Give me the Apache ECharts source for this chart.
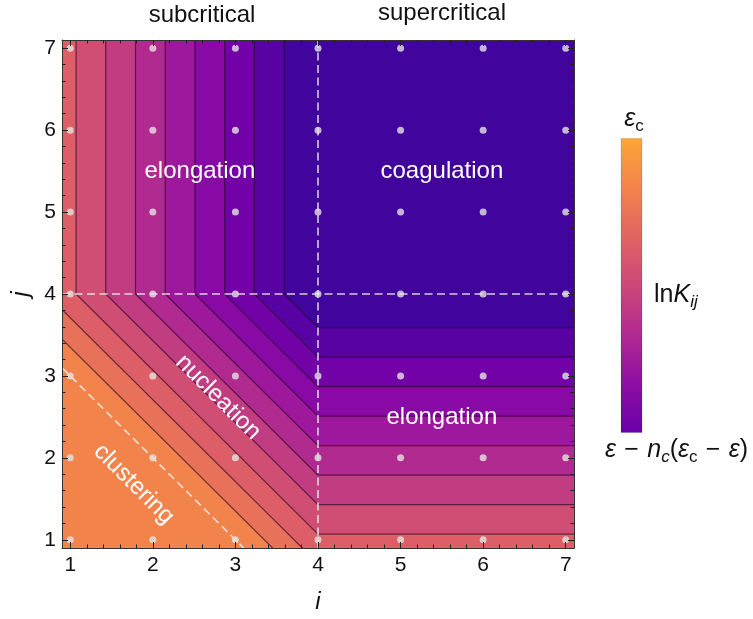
<!DOCTYPE html>
<html><head><meta charset="utf-8">
<script src="https://cdn.jsdelivr.net/npm/echarts@6/dist/echarts.min.js"></script>
<style>html,body{margin:0;padding:0;background:#fff}#c{width:753px;height:619px}</style>
</head><body><div id="c"></div>
<script>
// ---------------- data ----------------
const iTicks = [1, 2, 3, 4, 5, 6, 7];
const jTicks = [1, 2, 3, 4, 5, 6, 7];
// contour levels of the effective size u (u = i+j-n_c below n_c, u = i or j on the strips)
const contourLevels = [0.35, 0.71, 1.07, 1.43, 1.79, 2.15, 2.51, 2.87, 3.23, 3.59];
const criticalSize = 4;      // n_c : dashed lines i = 4 and j = 4
const clusteringSum = 4;     // dashed diagonal i + j = 4
const regionTitles = ['subcritical', 'supercritical'];
const phaseNames = ['elongation', 'coagulation', 'elongation', 'nucleation', 'clustering'];

// ---------------- layout / style ----------------
const X0 = 0.9, X1 = 7.1, Y0 = 0.9, Y1 = 7.1;
const FONT = '"Liberation Sans", Arial, Helvetica, sans-serif';
// band fills from lowest u (clustering) to highest u (coagulation) – plasma samples
const bandColors = ['#f2844b', '#e87159', '#dd5e66', '#d04d74', '#c23c82', '#b12a90',
                    '#9d189d', '#8809a6', '#7201a8', '#5802a4', '#41049d'];
const phaseLabelLayout = [[2.57, 5.5, 0], [5.5, 5.5, 0], [5.5, 2.5, 0], [2.79, 2.74, -45], [1.77, 1.68, -45]];

const minorTicks = [];
for (let k = 1; k < 7; k++) for (const f of [0.2, 0.4, 0.6, 0.8]) minorTicks.push(+(k + f).toFixed(1));

const gridPoints = [];
iTicks.forEach(i => jTicks.forEach(j => gridPoints.push([i, j])));

function xAx(pos, major, labels, extra) {
  return Object.assign({
    type: 'value', min: X0, max: X1, position: pos, z: 10,
    splitLine: { show: false },
    axisLine: { show: major, onZero: false, lineStyle: { color: '#333', width: 1 } },
    axisTick: { show: true, inside: true, length: major ? 6 : 3.5,
      customValues: major ? iTicks : minorTicks, lineStyle: { color: '#222', width: 1 } },
    axisLabel: { show: labels, customValues: iTicks, fontSize: 21, color: '#111', margin: 7, fontFamily: FONT }
  }, extra || {});
}
function yAx(pos, major, labels, extra) {
  return Object.assign({
    type: 'value', min: Y0, max: Y1, position: pos, z: 10,
    splitLine: { show: false },
    axisLine: { show: major, onZero: false, lineStyle: { color: '#333', width: 1 } },
    axisTick: { show: true, inside: true, length: major ? 6 : 3.5,
      customValues: major ? jTicks : minorTicks, lineStyle: { color: '#222', width: 1 } },
    axisLabel: { show: labels, customValues: jTicks, fontSize: 21, color: '#111', margin: 6, fontFamily: FONT }
  }, extra || {});
}

const mainTok = (italic) => ({ fontSize: 25, fontStyle: italic ? 'italic' : 'normal', fontFamily: FONT,
  fill: '#111', lineHeight: 32, verticalAlign: 'middle' });
const subTok = (italic) => ({ fontSize: 17, fontStyle: italic ? 'italic' : 'normal', fontFamily: FONT,
  fill: '#111', verticalAlign: 'bottom' });

const chart = echarts.init(document.getElementById('c'), null, { renderer: 'canvas' });

const option = {
  animation: false,
  backgroundColor: '#fff',
  grid: { left: 62, top: 40, width: 512, height: 511 },
  xAxis: [
    xAx('bottom', true, true, { name: 'i', nameLocation: 'middle', nameGap: 42,
      nameTextStyle: { fontStyle: 'italic', fontSize: 24, color: '#111', fontFamily: FONT } }),
    xAx('bottom', false, false),
    xAx('top', true, false),
    xAx('top', false, false)
  ],
  yAxis: [
    yAx('left', true, true, { name: 'j', nameLocation: 'middle', nameGap: 26, nameRotate: 90,
      nameTextStyle: { fontStyle: 'italic', fontSize: 24, color: '#111', fontFamily: FONT } }),
    yAx('left', false, false),
    yAx('right', true, false),
    yAx('right', false, false)
  ],
  series: [
    { // filled contour bands
      type: 'custom', clip: true, z: 1, silent: true,
      data: [X0].concat(contourLevels).map((c, k) => [c, k]),
      renderItem: function (params, api) {
        const idx = params.dataIndex;
        const color = bandColors[idx];
        if (idx === 0) {
          const p0 = api.coord([X0, Y1]), p1 = api.coord([X1, Y0]);
          return { type: 'rect', shape: { x: p0[0], y: p0[1], width: p1[0] - p0[0], height: p1[1] - p0[1] },
                   style: { fill: color } };
        }
        const c = contourLevels[idx - 1], B = criticalSize;
        const pts = [[c, Y1 + 1], [c, B], [B, c], [X1 + 1, c], [X1 + 1, Y1 + 1]].map(p => api.coord(p));
        return { type: 'polygon', shape: { points: pts }, style: { fill: color } };
      }
    },
    { // contour lines
      type: 'custom', clip: true, z: 2, silent: true,
      data: contourLevels.map((c, k) => [c, k]),
      renderItem: function (params, api) {
        const c = contourLevels[params.dataIndex], B = criticalSize;
        const pts = [[c, Y1 + 1], [c, B], [B, c], [X1 + 1, c]].map(p => api.coord(p));
        return { type: 'polyline', shape: { points: pts },
                 style: { fill: null, stroke: 'rgba(30,0,30,0.62)', lineWidth: 1.2 } };
      }
    },
    { // dashed guide lines
      type: 'custom', clip: true, z: 3, silent: true,
      data: [[criticalSize, 0], [criticalSize, 1], [clusteringSum, 2]],
      renderItem: function (params, api) {
        const k = params.dataIndex;
        let a, b;
        if (k === 0) { a = [criticalSize, Y0]; b = [criticalSize, Y1]; }
        else if (k === 1) { a = [X0, criticalSize]; b = [X1, criticalSize]; }
        else { a = [X0, clusteringSum - X0]; b = [clusteringSum - Y0, Y0]; }
        const p = api.coord(a), q = api.coord(b);
        return { type: 'line', shape: { x1: p[0], y1: p[1], x2: q[0], y2: q[1] },
                 style: { stroke: 'rgba(240,240,240,0.85)', lineWidth: 1.6, lineDash: [8, 4.5] } };
      }
    },
    { // lattice points
      type: 'scatter', z: 4, silent: true, symbol: 'circle', symbolSize: 7,
      itemStyle: { color: '#e4e4e4' },
      data: gridPoints
    },
    { // phase labels
      type: 'custom', clip: false, z: 5, silent: true,
      data: phaseLabelLayout.map(p => [p[0], p[1]]),
      renderItem: function (params, api) {
        const L = phaseLabelLayout[params.dataIndex];
        const p = api.coord([L[0], L[1]]);
        return { type: 'text', x: p[0], y: p[1], rotation: L[2] * Math.PI / 180,
                 style: { text: phaseNames[params.dataIndex], fill: '#fff', fontSize: 24,
                          fontFamily: FONT, align: 'center', verticalAlign: 'middle' } };
      }
    }
  ],
  graphic: [
    { type: 'text', x: 202, y: 15, style: { text: regionTitles[0], fill: '#111', fontSize: 24, fontFamily: FONT,
      align: 'center', verticalAlign: 'middle' } },
    { type: 'text', x: 442, y: 13, style: { text: regionTitles[1], fill: '#111', fontSize: 24, fontFamily: FONT,
      align: 'center', verticalAlign: 'middle' } },
    { type: 'rect', shape: { x: 621, y: 138.5, width: 21, height: 294 },
      style: { stroke: 'rgba(0,0,0,0.12)', lineWidth: 1,
        fill: new echarts.graphic.LinearGradient(0, 0, 0, 1, [
          { offset: 0, color: '#fca636' }, { offset: 0.1667, color: '#f2844b' },
          { offset: 0.3333, color: '#e16462' }, { offset: 0.5, color: '#cc4778' },
          { offset: 0.6667, color: '#b12a90' }, { offset: 0.8333, color: '#8f0da4' },
          { offset: 1, color: '#6a00a8' }]) } },
    { type: 'text', x: 634, y: 119, style: {
      text: '{e|ε}{s|c}', align: 'center', verticalAlign: 'middle',
      rich: { e: mainTok(true), s: subTok(false) } } },
    { type: 'text', x: 654, y: 295, style: {
      text: '{n|ln}{k|K}{s|ij}', align: 'left', verticalAlign: 'middle',
      rich: { n: mainTok(false), k: mainTok(true), s: subTok(true) } } },
    { type: 'text', x: 605, y: 450, style: {
      text: '{e|ε}{n|\u2004−\u2004}{e|n}{si|c}{n|(}{e|ε}{s|c}{n|\u2004−\u2004}{e|ε}{n|)}', align: 'left', verticalAlign: 'middle',
      rich: { e: mainTok(true), n: mainTok(false), s: subTok(false), si: subTok(true) } } }
  ]
};
chart.setOption(option);
</script>
</body></html>
